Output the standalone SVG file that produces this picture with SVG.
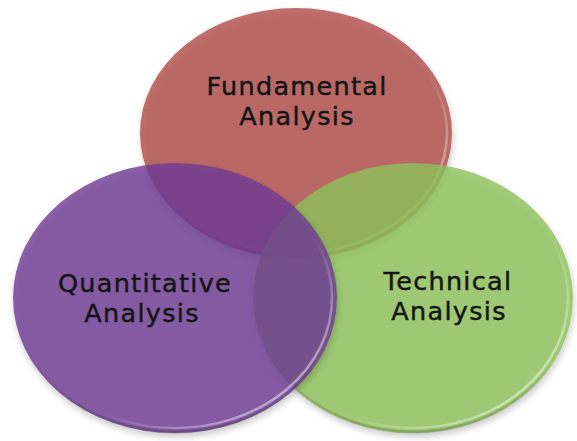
<svg xmlns="http://www.w3.org/2000/svg" width="577" height="441" viewBox="0 0 577 441">
  <defs>
    <filter id="shadow" x="-10%" y="-10%" width="120%" height="125%">
      <feDropShadow dx="1" dy="4" stdDeviation="3" flood-color="#000" flood-opacity="0.25"/>
    </filter>
    <linearGradient id="rim" x1="0" y1="0" x2="1" y2="1">
      <stop offset="0" stop-color="#fff" stop-opacity="0"/>
      <stop offset="0.6" stop-color="#fff" stop-opacity="0"/>
      <stop offset="0.9" stop-color="#fff" stop-opacity="0.55"/>
      <stop offset="1" stop-color="#fff" stop-opacity="0.3"/>
    </linearGradient>
    <linearGradient id="edge" x1="0" y1="0" x2="0" y2="1">
      <stop offset="0" stop-color="#000" stop-opacity="0"/>
      <stop offset="0.7" stop-color="#000" stop-opacity="0"/>
      <stop offset="1" stop-color="#000" stop-opacity="0.18"/>
    </linearGradient>
  </defs>
  <style>
    .c { fill-opacity: 0.8; filter: url(#shadow); }
    .rim { fill: none; stroke: url(#rim); stroke-width: 2.5; }
    .edge { fill: none; stroke: url(#edge); stroke-width: 3; }
    .t { font-family: "DejaVu Sans", "Liberation Sans", sans-serif; font-size: 25.5px; letter-spacing: 1.3px; fill: #151515; stroke: #151515; stroke-width: 0.45px; text-anchor: middle; }
  </style>
  <rect width="577" height="441" fill="#ffffff"/>
  <g id="fundamental">
    <ellipse class="c" cx="296" cy="133" rx="156" ry="125" fill="#b04c4a"/>
    <ellipse class="edge" cx="296" cy="133" rx="155" ry="124"/>
    <ellipse class="rim" cx="296" cy="133" rx="151" ry="120"/>
    <text class="t"><tspan x="297" y="95">Fundamental</tspan><tspan x="297" y="125">Analysis</tspan></text>
  </g>
  <g id="technical">
    <ellipse class="c" cx="413" cy="298" rx="160" ry="135" fill="#8fc25a"/>
    <ellipse class="edge" cx="413" cy="298" rx="159" ry="134"/>
    <ellipse class="rim" cx="413" cy="298" rx="155" ry="130"/>
  </g>
  <g id="quantitative">
    <ellipse class="c" cx="175" cy="298" rx="162" ry="135" fill="#6e3c93"/>
    <ellipse class="edge" cx="175" cy="298" rx="161" ry="134"/>
    <ellipse class="rim" cx="175" cy="298" rx="157" ry="130"/>
    <text class="t"><tspan x="145" y="292">Quantitative</tspan><tspan x="142" y="322">Analysis</tspan></text>
  </g>
  <g id="technical-label">
    <text class="t"><tspan x="448" y="290">Technical</tspan><tspan x="449" y="320">Analysis</tspan></text>
  </g>
</svg>
